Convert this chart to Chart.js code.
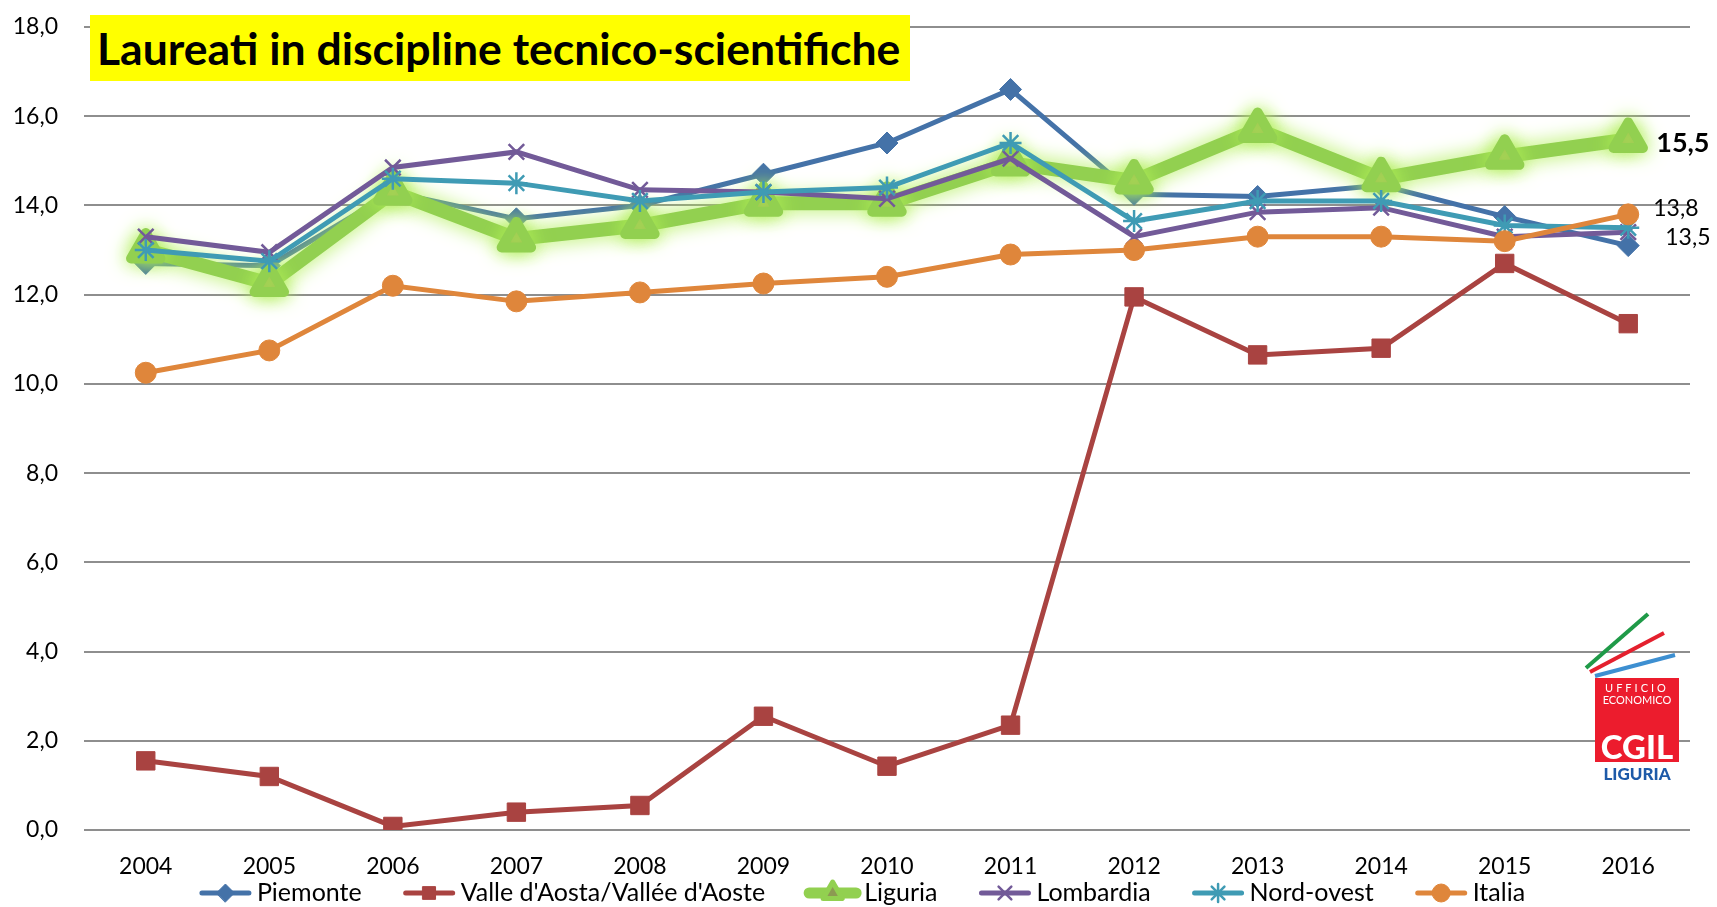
<!DOCTYPE html>
<html>
<head>
<meta charset="utf-8">
<script src="https://cdn.jsdelivr.net/npm/chart.js@4/dist/chart.umd.min.js"></script>
<style>
  body { margin: 0; background: #fff; }
  #wrap { position: relative; width: 1717px; height: 907px; overflow: hidden; }
  #titolo {
    position: absolute; left: 90px; top: 15px; width: 820px; height: 66px;
    background: #ffff00; font-family: Lato, "Open Sans", sans-serif; font-weight: bold;
    font-size: 44.5px; line-height: 66px; padding-left: 7px; box-sizing: border-box; color: #000;
    white-space: nowrap;
  }
  #logo { position: absolute; left: 1580px; top: 605px; }
</style>
</head>
<body>
<div id="wrap">
  <canvas id="moodChart" width="1717" height="907"></canvas>
  <div id="titolo">Laureati in discipline tecnico-scientifiche</div>
  <svg id="logo" width="110" height="180" viewBox="1580 605 110 180">
    <line x1="1586" y1="668" x2="1648" y2="614" stroke="#1f9a48" stroke-width="4"/>
    <line x1="1590" y1="672" x2="1664" y2="633" stroke="#e4202e" stroke-width="4"/>
    <line x1="1595" y1="676" x2="1675" y2="655" stroke="#3d8fd1" stroke-width="4"/>
    <rect x="1595" y="678" width="84" height="84" fill="#ec1c2d"/>
    <text x="1637" y="692" text-anchor="middle" font-family="Lato, sans-serif" font-size="11" letter-spacing="3" fill="#fff">UFFICIO</text>
    <text x="1637" y="704" text-anchor="middle" font-family="Lato, sans-serif" font-size="11" fill="#fff">ECONOMICO</text>
    <text x="1637" y="759" text-anchor="middle" font-family="Lato, sans-serif" font-size="33" font-weight="900" fill="#fff">CGIL</text>
    <text x="1637" y="780" text-anchor="middle" font-family="Lato, sans-serif" font-size="17" font-weight="900" fill="#1d5aa8">LIGURIA</text>
  </svg>
</div>
<script>
const anni = ['2004', '2005', '2006', '2007', '2008', '2009', '2010', '2011', '2012', '2013', '2014', '2015', '2016'];

const piemonte = [12.7, 12.65, 14.3, 13.7, 14.0, 14.7, 15.4, 16.6, 14.25, 14.2, 14.45, 13.75, 13.1];
const valleAosta = [1.55, 1.2, 0.08, 0.4, 0.55, 2.55, 1.43, 2.35, 11.95, 10.65, 10.8, 12.7, 11.35];
const liguria = [13.0, 12.25, 14.3, 13.25, 13.55, 14.05, 14.05, 14.95, 14.55, 15.7, 14.6, 15.1, 15.48];
const lombardia = [13.3, 12.95, 14.85, 15.2, 14.35, 14.3, 14.15, 15.05, 13.3, 13.85, 13.95, 13.3, 13.4];
const nordOvest = [13.0, 12.75, 14.6, 14.5, 14.1, 14.3, 14.4, 15.4, 13.65, 14.1, 14.1, 13.55, 13.5];
const italia = [10.25, 10.75, 12.2, 11.85, 12.05, 12.25, 12.4, 12.9, 13.0, 13.3, 13.3, 13.2, 13.8];

const yTicks = [0, 2, 4, 6, 8, 10, 12, 14, 16, 18];

const fmt = v => v.toFixed(1).replace('.', ',');
const FONT = 'Lato, "Open Sans", sans-serif';

function serie(label, data, color, style, extra) {
  return Object.assign({
    label,
    data,
    borderColor: color,
    backgroundColor: color,
    pointBackgroundColor: color,
    pointBorderColor: color,
    borderWidth: 5,
    pointStyle: style,
    pointRadius: 10,
    pointBorderWidth: 1,
    tension: 0,
  }, extra || {});
}

const datasets = [
  serie('Piemonte', piemonte, '#4472a8', 'rectRot', { pointRadius: 11 }),
  serie("Valle d'Aosta/Vallée d'Aoste", valleAosta, '#a94341', 'rect', { pointRadius: 13 }),
  serie('Liguria', liguria, '#92d050', 'triangle', {
    borderWidth: 14, pointRadius: 17, pointBorderWidth: 10, pointBackgroundColor: '#8c9a52'
  }),
  serie('Lombardia', lombardia, '#725a98', 'crossRot', { pointRadius: 11, pointBorderWidth: 2.5 }),
  serie('Nord-ovest', nordOvest, '#3f9bb4', 'star', { pointRadius: 11, pointBorderWidth: 2.5 }),
  serie('Italia', italia, '#df863b', 'circle', { pointRadius: 10.5 }),
];
datasets.forEach((d, i) => { d.order = datasets.length - i; });

// alone verde attorno alla serie Liguria
const glowPlugin = {
  id: 'glow',
  beforeDatasetDraw(chart, args) {
    if (args.index !== 2) return;
    const ctx = chart.ctx;
    ctx.save();
    ctx.shadowColor = 'rgba(175, 238, 85, 1)';
    ctx.shadowBlur = 20;
    ctx.lineJoin = 'round';
  },
  afterDatasetDraw(chart, args) {
    if (args.index === 2) chart.ctx.restore();
  }
};

// etichette valori finali
const endLabels = {
  id: 'endLabels',
  afterDatasetsDraw(chart) {
    const ctx = chart.ctx;
    const last = anni.length - 1;
    const items = [
      { ds: 2, dx: 28, dy: 4, bold: true, size: 27 },
      { ds: 5, dx: 25, dy: -6, bold: false, size: 23 },
      { ds: 4, dx: 37, dy: 10, bold: false, size: 23 },
    ];
    ctx.save();
    ctx.textBaseline = 'middle';
    ctx.textAlign = 'left';
    items.forEach(it => {
      const pt = chart.getDatasetMeta(it.ds).data[last];
      const val = chart.data.datasets[it.ds].data[last];
      ctx.font = (it.bold ? 'bold ' : '') + it.size + 'px ' + FONT;
      ctx.fillStyle = '#000';
      ctx.fillText(fmt(val), pt.x + it.dx, pt.y + it.dy);
    });
    ctx.restore();
  }
};

// legenda stile Excel: linea + marcatore
const legendaExcel = {
  id: 'legendaExcel',
  afterDraw(chart) {
    const ctx = chart.ctx;
    const lineLen = 53, gapText = 5, gapItem = 41, y = 893;
    ctx.save();
    ctx.font = '25px ' + FONT;
    const widths = chart.data.datasets.map(d => lineLen + gapText + ctx.measureText(d.label).width);
    const total = widths.reduce((a, b) => a + b, 0) + gapItem * (widths.length - 1);
    let x = 862 - total / 2;
    chart.data.datasets.forEach((d, i) => {
      ctx.save();
      ctx.strokeStyle = d.borderColor;
      ctx.lineWidth = i === 2 ? 11 : 5;
      ctx.lineCap = 'round';
      ctx.beginPath();
      ctx.moveTo(x + 3, y);
      ctx.lineTo(x + lineLen - 3, y);
      ctx.stroke();
      ctx.fillStyle = d.pointBackgroundColor;
      ctx.strokeStyle = d.pointBorderColor;
      ctx.lineWidth = i === 2 ? 5 : d.pointBorderWidth;
      ctx.lineJoin = 'round';
      Chart.helpers.drawPoint(ctx, {
        pointStyle: d.pointStyle,
        radius: i === 2 ? 11 : Math.min(d.pointRadius, 9),
        borderWidth: ctx.lineWidth,
        rotation: 0
      }, x + lineLen / 2, y);
      ctx.restore();
      ctx.fillStyle = '#000';
      ctx.textBaseline = 'middle';
      ctx.textAlign = 'left';
      ctx.fillText(d.label, x + lineLen + gapText, y);
      x += widths[i] + gapItem;
    });
    ctx.restore();
  }
};

new Chart(document.getElementById('moodChart'), {
  type: 'line',
  data: { labels: anni, datasets },
  options: {
    responsive: false,
    animation: false,
    layout: { padding: { top: 22, right: 25, left: 0, bottom: 0 } },
    plugins: {
      legend: { display: false },
      tooltip: { enabled: false }
    },
    scales: {
      x: {
        offset: true,
        grid: { display: false, drawTicks: false },
        border: { display: false },
        ticks: { padding: 23, color: '#000', font: { family: FONT, size: 23 } },
        afterFit(scale) { scale.height = 77; }
      },
      y: {
        min: 0,
        max: 18,
        afterBuildTicks(scale) { scale.ticks = yTicks.map(v => ({ value: v })); },
        grid: { color: '#8e8e8e', lineWidth: 2, drawTicks: false },
        border: { display: false },
        ticks: {
          padding: 26,
          color: '#000',
          font: { family: FONT, size: 23 },
          callback: v => fmt(v)
        },
        afterFit(scale) {
          scale.width = 84;
          scale.paddingTop = 0;
          scale.paddingBottom = 0;
        }
      }
    }
  },
  plugins: [glowPlugin, endLabels, legendaExcel]
});
</script>
</body>
</html>
